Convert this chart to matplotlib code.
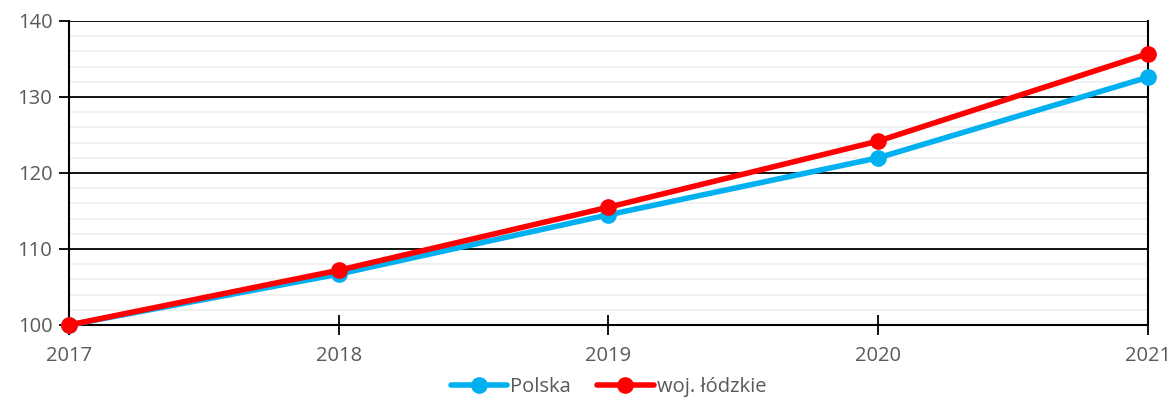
import matplotlib.pyplot as plt
import numpy as np

lata = [2017, 2018, 2019, 2020, 2021]
polska = [100.0, 106.7, 114.5, 122.0, 132.6]
lodzkie = [100.0, 107.2, 115.5, 124.2, 135.7]

plt.rcParams['font.family'] = ['Open Sans', 'DejaVu Sans']
szary = '#595959'

fig = plt.figure(figsize=(11.75, 4), dpi=100)
ax = fig.add_axes([0.0587, 0.1875, 0.9183, 0.76])

x = np.arange(len(lata))
ax.plot(x, polska, color='#00B0F0', lw=4, marker='o', ms=11, label='Polska',
        solid_capstyle='round', zorder=3, clip_on=False)
ax.plot(x, lodzkie, color='#FF0000', lw=4, marker='o', ms=11, label='woj. łódzkie',
        solid_capstyle='round', zorder=4, clip_on=False)

ax.set_xlim(0, len(lata) - 1)
ax.set_ylim(100, 140)
ax.set_xticks(x)
ax.set_xticklabels([str(r) for r in lata])
ax.set_yticks(np.arange(100, 141, 10))
ax.set_yticks(np.arange(100, 141, 2), minor=True)

ax.grid(which='minor', axis='y', color='#EFEFEF', lw=1.2, zorder=0)
ax.grid(which='major', axis='y', color='black', lw=1.3, zorder=1)

for s in ['left', 'bottom', 'right']:
    ax.spines[s].set_color('black')
    ax.spines[s].set_linewidth(1.5)
ax.spines['top'].set_visible(False)

ax.tick_params(axis='x', direction='inout', length=14, width=1.3, colors='black',
               labelcolor=szary, labelsize=14.5, pad=8)
ax.tick_params(axis='y', which='major', direction='out', length=7, width=1.3,
               colors='black', labelcolor=szary, labelsize=14.5, pad=5)
ax.tick_params(axis='y', which='minor', length=0)

ax.legend(loc='center', bbox_to_anchor=(0.5, -0.204), ncol=2, frameon=False,
          fontsize=14.5, labelcolor=szary, handlelength=2.8, handletextpad=0.15,
          columnspacing=1.3, borderpad=0)

fig.savefig('out.png', dpi=100)
